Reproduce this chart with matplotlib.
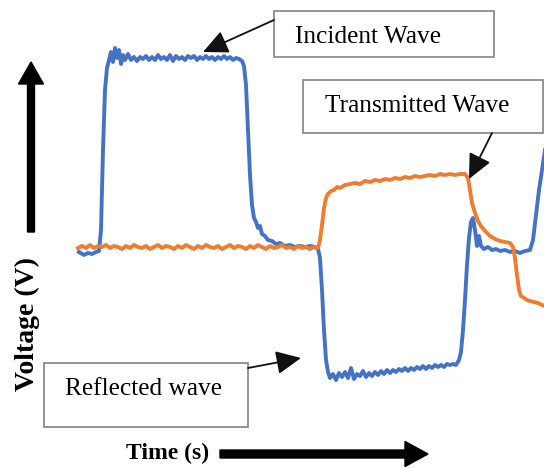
import numpy as np
import matplotlib
matplotlib.use("Agg")
import matplotlib.pyplot as plt
from matplotlib.patches import Rectangle, FancyArrow

# time axis in arbitrary units, voltage in V
t_incident = [79, 84, 88, 92, 96, 99, 101, 103, 105, 107, 109, 111, 113, 115, 117, 119, 121, 123, 125,
              128, 131, 134, 137, 140, 143, 146, 149, 152, 155, 158, 161, 164, 167, 170, 173, 176, 179,
              182, 185, 188, 191, 194, 197, 200, 203, 206, 209, 212, 215, 218, 221, 224, 227, 230, 233,
              236, 239, 242, 244, 246, 248, 250, 252, 254, 256, 258, 260, 262, 265, 268, 272, 276, 280,
              285, 290, 295, 300, 305, 310, 315, 318, 320, 322, 324, 326, 328, 330, 333, 336, 339, 342,
              345, 348, 351, 354, 357, 360, 363, 366, 369, 372, 375, 378, 381, 384, 387, 390, 393, 396,
              399, 402, 405, 408, 411, 414, 417, 420, 423, 426, 429, 432, 435, 438, 441, 444, 447, 450,
              453, 456, 459, 461, 463, 465, 467, 469, 471, 473, 475, 477, 479, 481, 484, 488, 492, 496,
              500, 505, 510, 515, 520, 525, 530, 533, 536, 539, 542, 545]
v_incident = [-0.03, -0.06, -0.04, -0.05, -0.03, -0.02, 0.19, 0.99, 1.59, 1.81, 1.89, 1.97, 1.87, 2.01,
              1.91, 1.99, 1.85, 1.94, 1.89, 1.95, 1.89, 1.92, 1.88, 1.92, 1.90, 1.93, 1.89, 1.92, 1.89,
              1.94, 1.90, 1.92, 1.89, 1.94, 1.88, 1.93, 1.90, 1.92, 1.89, 1.93, 1.91, 1.93, 1.89, 1.92,
              1.90, 1.93, 1.90, 1.92, 1.89, 1.92, 1.90, 1.93, 1.90, 1.92, 1.89, 1.91, 1.90, 1.88, 1.83,
              1.64, 1.19, 0.74, 0.44, 0.31, 0.27, 0.21, 0.23, 0.15, 0.13, 0.09, 0.08, 0.05, 0.06, 0.03,
              0.04, 0.02, 0.03, 0.02, 0.03, 0.02, 0.00, -0.09, -0.41, -0.81, -1.11, -1.23, -1.29, -1.25,
              -1.31, -1.24, -1.28, -1.23, -1.29, -1.19, -1.30, -1.25, -1.27, -1.22, -1.28, -1.24, -1.27,
              -1.23, -1.26, -1.22, -1.25, -1.21, -1.24, -1.21, -1.23, -1.20, -1.22, -1.19, -1.22, -1.19,
              -1.21, -1.18, -1.20, -1.17, -1.20, -1.17, -1.19, -1.16, -1.18, -1.16, -1.18, -1.15, -1.16,
              -1.15, -1.16, -1.11, -1.03, -0.81, -0.51, -0.16, 0.11, 0.27, 0.31, 0.19, 0.03, 0.13, 0.03,
              0.00, 0.02, -0.01, 0.00, -0.02, -0.01, -0.03, -0.02, -0.04, -0.02, -0.01, 0.09, 0.34, 0.59,
              0.79, 0.99]

t_transmitted = [78, 82, 86, 90, 94, 98, 102, 106, 110, 114, 118, 122, 126, 130, 134, 138, 142, 146, 150,
                 154, 158, 162, 166, 170, 174, 178, 182, 186, 190, 194, 198, 202, 206, 210, 214, 218, 222,
                 226, 230, 234, 238, 242, 246, 250, 254, 258, 262, 266, 270, 274, 278, 282, 286, 290, 294,
                 298, 302, 306, 310, 314, 318, 320, 322, 324, 326, 328, 331, 334, 337, 340, 345, 350, 355,
                 360, 365, 370, 375, 380, 385, 390, 395, 400, 405, 410, 415, 420, 425, 430, 435, 440, 445,
                 450, 455, 460, 465, 468, 470, 472, 475, 478, 481, 485, 490, 495, 500, 505, 510, 513, 515,
                 517, 519, 521, 524, 527, 530, 534, 538, 542, 545]
v_transmitted = [0.01, 0.03, 0.01, 0.04, 0.01, 0.03, 0.02, 0.04, 0.01, 0.03, 0.02, 0.00, 0.03, 0.01, 0.04,
                 0.02, 0.01, 0.03, 0.00, 0.02, 0.04, 0.01, 0.03, 0.02, 0.00, 0.03, 0.01, 0.04, 0.02, 0.00,
                 0.03, 0.01, 0.04, 0.02, 0.01, 0.03, 0.00, 0.02, 0.04, 0.01, 0.03, 0.02, 0.00, 0.03, 0.01,
                 0.04, 0.02, 0.00, 0.03, 0.01, 0.02, 0.04, 0.01, 0.02, 0.00, 0.03, 0.01, 0.02, 0.00, 0.02,
                 0.01, 0.09, 0.24, 0.41, 0.51, 0.55, 0.58, 0.59, 0.62, 0.61, 0.64, 0.65, 0.66, 0.65, 0.68,
                 0.67, 0.69, 0.68, 0.70, 0.69, 0.71, 0.70, 0.72, 0.71, 0.73, 0.72, 0.73, 0.74, 0.73, 0.75,
                 0.74, 0.75, 0.74, 0.75, 0.75, 0.71, 0.59, 0.46, 0.36, 0.28, 0.23, 0.18, 0.13, 0.10, 0.08,
                 0.07, 0.06, 0.02, -0.09, -0.26, -0.41, -0.47, -0.49, -0.51, -0.52, -0.53, -0.54, -0.56,
                 -0.57]

blue = "#4472C4"
orange = "#ED7D31"
serif = ["Liberation Serif", "DejaVu Serif"]

fig = plt.figure(figsize=(5.44, 4.68), dpi=100)

ax = fig.add_axes([0, 0, 1, 1])
ax.plot(t_incident, v_incident, color=blue, lw=2.8, zorder=2, solid_joinstyle="round")
ax.plot(t_transmitted, v_transmitted, color=orange, lw=2.8, zorder=3, solid_joinstyle="round")
ax.set_xlim(0, 544)
ax.set_ylim(-2.19, 2.49)
ax.axis("off")

# overlay in pixel units for the annotations
ov = fig.add_axes([0, 0, 1, 1], facecolor="none")
ov.set_xlim(0, 544)
ov.set_ylim(468, 0)
ov.axis("off")

box_kw = dict(facecolor="white", edgecolor="#8c8c8c", lw=1.3, zorder=5)
ov.add_patch(Rectangle((274, 11), 220, 46, **box_kw))
ov.add_patch(Rectangle((303, 80), 240, 53, **box_kw))
ov.add_patch(Rectangle((44, 363), 204, 64, **box_kw))

ov.text(295, 37, "Incident Wave", fontsize=18.3, family=serif, va="center", ha="left", zorder=6)
ov.text(325, 106, "Transmitted Wave", fontsize=18.3, family=serif, va="center", ha="left", zorder=6)
ov.text(65, 389, "Reflected wave", fontsize=18.3, family=serif, va="center", ha="left", zorder=6)

arr = dict(arrowstyle="-|>,head_length=0.85,head_width=0.4", color="#111111", lw=1.3,
           mutation_scale=18, shrinkA=0, shrinkB=0)
ov.annotate("", xy=(203, 52), xytext=(274, 20), arrowprops=arr, zorder=6)
ov.annotate("", xy=(469, 179), xytext=(492, 133), arrowprops=arr, zorder=6)
ov.annotate("", xy=(301, 358), xytext=(248, 368), arrowprops=arr, zorder=6)

# axis arrows
ov.add_patch(FancyArrow(31, 232, 0, -170, width=7, head_width=25, head_length=22,
                        length_includes_head=True, color="black", zorder=6))
ov.add_patch(FancyArrow(220, 454, 208, 0, width=8, head_width=25, head_length=23,
                        length_includes_head=True, color="black", zorder=6))
ov.text(168, 453, "Time (s)", fontsize=17, family=serif, weight="bold", va="center", ha="center")
ov.text(27, 324, "Voltage (V)", fontsize=20, family=serif, weight="bold", va="center", ha="center",
        rotation=90)

fig.savefig("out.png", dpi=100)
